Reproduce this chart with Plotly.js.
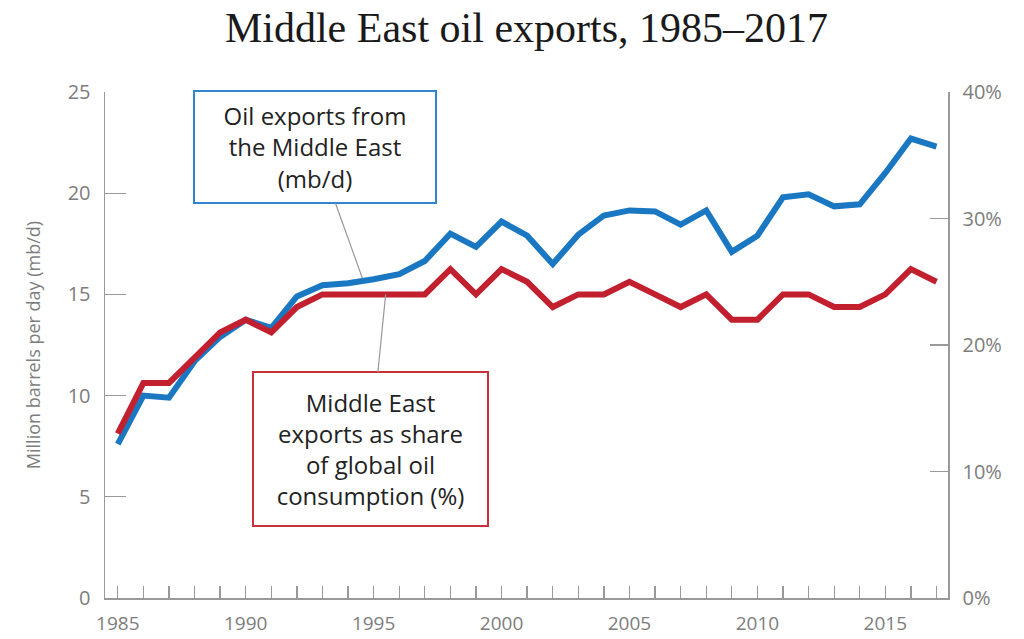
<!DOCTYPE html>
<html>
<head>
<meta charset="utf-8">
<script src="https://cdn.plot.ly/plotly-3.0.1.min.js"></script>
<style>html,body{margin:0;padding:0;background:#fff;}#chart{width:1024px;height:639px;}</style>
</head>
<body>
<div id="chart"></div>
<script>
const years = [1985,1986,1987,1988,1989,1990,1991,1992,1993,1994,1995,1996,1997,1998,1999,2000,2001,2002,2003,2004,2005,2006,2007,2008,2009,2010,2011,2012,2013,2014,2015,2016,2017];
const exportsMbd = [7.6,10.0,9.9,11.7,12.9,13.75,13.35,14.9,15.45,15.55,15.75,16.0,16.65,18.0,17.35,18.6,17.9,16.5,17.95,18.9,19.15,19.1,18.45,19.15,17.1,17.9,19.8,19.95,19.35,19.45,21.0,22.7,22.3];
const sharePct = [13,17,17,19,21,22,21,23,24,24,24,24,24,26,24,26,25,23,24,24,25,24,23,24,22,22,24,24,23,23,24,26,25];
const xTickLabels = years.map(y => (y % 5 === 0 ? String(y) : ''));
const leftTicks = [0,5,10,15,20,25];
const rightTicks = [0,10,20,30,40];
const rightTickLabels = ['0%','10%','20%','30%','40%'];

const axisGrey = '#9a9a9a';
const labelGrey = '#7d7d7d';
const font = 'Open Sans, Noto Sans, sans-serif';

const traces = [
  {x: years, y: exportsMbd, type: 'scatter', mode: 'lines', yaxis: 'y',
   line: {color: '#1a77c2', width: 6}, hoverinfo: 'x+y'},
  {x: years, y: sharePct, type: 'scatter', mode: 'lines', yaxis: 'y2',
   line: {color: '#c21f2f', width: 6}, hoverinfo: 'x+y'}
];

const layout = {
  width: 1024, height: 639,
  margin: {l: 105, r: 76, t: 92, b: 41},
  paper_bgcolor: '#ffffff', plot_bgcolor: '#ffffff',
  showlegend: false,
  font: {family: font, color: labelGrey},
  title: {text: 'Middle East oil exports, 1985–2017',
    font: {family: 'Liberation Serif, DejaVu Serif, serif', size: 42, color: '#1a1a1a'},
    xref: 'paper', x: 0.5, xanchor: 'center', yref: 'container', y: 1 - 27/639, yanchor: 'middle'},
  xaxis: {range: [1984.5, 2017.45], tickmode: 'array', tickvals: years, ticktext: xTickLabels,
    ticks: 'inside', ticklen: 12, tickwidth: 1.3, tickcolor: axisGrey,
    showline: true, linecolor: axisGrey, linewidth: 1.5, showgrid: false, zeroline: false,
    tickfont: {family: font, size: 19, color: labelGrey}, ticklabelstandoff: 8, fixedrange: true},
  yaxis: {range: [0, 25], tickmode: 'array', tickvals: leftTicks,
    ticks: 'inside', ticklen: 21, tickwidth: 1.3, tickcolor: axisGrey,
    showline: true, linecolor: axisGrey, linewidth: 1.5, showgrid: false, zeroline: false,
    tickfont: {family: font, size: 20, color: labelGrey}, ticklabelstandoff: 9,
    title: {text: 'Million barrels per day (mb/d)', font: {family: font, size: 18, color: labelGrey}, standoff: 22},
    fixedrange: true},
  yaxis2: {range: [0, 40], overlaying: 'y', side: 'right', tickmode: 'array', tickvals: rightTicks, ticktext: rightTickLabels,
    ticks: 'inside', ticklen: 18, tickwidth: 1.3, tickcolor: axisGrey,
    showline: true, linecolor: axisGrey, linewidth: 1.5, showgrid: false, zeroline: false,
    tickfont: {family: font, size: 20, color: labelGrey}, ticklabelstandoff: 9, fixedrange: true},
  annotations: [
    {x: 1994.56, y: 15.8, xref: 'x', yref: 'y',
     text: 'Oil exports from<br>the Middle East<br>(mb/d)',
     font: {family: font, size: 24, color: '#222222'},
     showarrow: true, arrowhead: 0, arrowwidth: 1.2, arrowcolor: '#999999', ax: -47, ay: -131,
     bordercolor: '#2f86cf', borderwidth: 2, borderpad: 2, bgcolor: '#ffffff',
     width: 236, height: 106, align: 'center', valign: 'middle'},
    {x: 1995.47, y: 24, xref: 'x', yref: 'y2',
     text: 'Middle East<br>exports as share<br>of global oil<br>consumption (%)',
     font: {family: font, size: 24, color: '#222222'},
     showarrow: true, arrowhead: 0, arrowwidth: 1.2, arrowcolor: '#999999', ax: -15.5, ay: 155,
     bordercolor: '#c8303c', borderwidth: 2, borderpad: 2, bgcolor: '#ffffff',
     width: 229, height: 148, align: 'center', valign: 'middle'}
  ]
};

Plotly.newPlot('chart', traces, layout, {displayModeBar: false, staticPlot: true});
</script>
</body>
</html>
